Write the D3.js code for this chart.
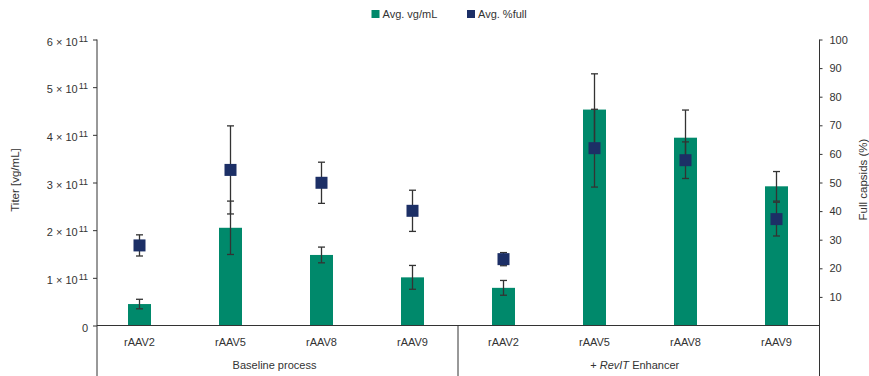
<!DOCTYPE html>
<html>
<head>
<meta charset="utf-8">
<script src="https://cdn.jsdelivr.net/npm/d3@7"></script>
<style>
  html, body { margin: 0; padding: 0; background: #fff; }
  svg { display: block; font-family: "Liberation Sans", Arial, sans-serif; }
</style>
</head>
<body>
<svg id="chart" width="869" height="376"></svg>
<script>
// Serotypes, grouped by production process
const categories = ["rAAV2", "rAAV5", "rAAV8", "rAAV9", "rAAV2", "rAAV5", "rAAV8", "rAAV9"];
const groups = ["Baseline process", "+ RevIT Enhancer"];
const groupSize = 4;

// Average titer, in units of 10^11 vg/mL, with its error (±)
const titer    = [0.45, 2.05, 1.48, 1.01, 0.79, 4.53, 3.94, 2.92];
const titerErr = [0.10, 0.56, 0.165, 0.25, 0.155, 0.75, 0.58, 0.31];

// Average percentage of full capsids, with its error (±)
const fullPct    = [28.0, 54.4, 49.9, 40.1, 23.2, 62.0, 57.8, 37.2];
const fullPctErr = [3.7, 15.4, 7.2, 7.2, 2.3, 13.6, 6.4, 5.9];

// Axis ticks
const titerTicks = [0, 1, 2, 3, 4, 5, 6];
const pctTicks = [10, 20, 30, 40, 50, 60, 70, 80, 90, 100];

const seriesNames = ["Avg. vg/mL", "Avg. %full"];
const green = "#00896b";
const navy = "#1c2f66";
const ink = "#333";

const W = 869, H = 376;
const plotLeft = 97, plotRight = 819.5, plotTop = 39.5, plotBase = 325.5;

const svg = d3.select("#chart");

const x = d3.scaleBand().domain(d3.range(categories.length)).range([94, 822]);
const yL = d3.scaleLinear().domain([0, 6]).range([plotBase, plotTop]);
const yR = d3.scaleLinear().domain([0, 100]).range([plotBase, plotTop]);

const barW = 23, capW = 7, markerS = 12;

// Bars: average titer
svg.append("g").selectAll("rect").data(titer).join("rect")
  .attr("x", (d, i) => x(i) + x.bandwidth() / 2 - barW / 2)
  .attr("y", d => yL(d))
  .attr("width", barW)
  .attr("height", d => yL(0) - yL(d))
  .attr("fill", green);

// Error bar helper
function errorBars(values, errs, scale) {
  const g = svg.append("g").attr("stroke", ink).attr("stroke-width", 1.3).attr("fill", "none");
  values.forEach((v, i) => {
    const cx = x(i) + x.bandwidth() / 2;
    const y1 = scale(v - errs[i]), y2 = scale(v + errs[i]);
    g.append("line").attr("x1", cx).attr("x2", cx).attr("y1", y1).attr("y2", y2);
    g.append("line").attr("x1", cx - capW / 2).attr("x2", cx + capW / 2).attr("y1", y1).attr("y2", y1);
    g.append("line").attr("x1", cx - capW / 2).attr("x2", cx + capW / 2).attr("y1", y2).attr("y2", y2);
  });
}
errorBars(titer, titerErr, yL);
errorBars(fullPct, fullPctErr, yR);

// Markers: average % full capsids
svg.append("g").selectAll("rect").data(fullPct).join("rect")
  .attr("x", (d, i) => x(i) + x.bandwidth() / 2 - markerS / 2)
  .attr("y", d => yR(d) - markerS / 2)
  .attr("width", markerS)
  .attr("height", markerS)
  .attr("fill", navy);

// Left axis (titer) with scientific-notation labels
const gL = svg.append("g").attr("transform", `translate(${plotLeft},0)`)
  .call(d3.axisLeft(yL).tickValues(titerTicks).tickSize(4).tickFormat(() => ""));
gL.select(".domain").remove();
gL.selectAll(".tick line").attr("stroke", ink);
gL.selectAll(".tick text").remove();
gL.selectAll(".tick").each(function (d) {
  const t = d3.select(this).append("text")
    .attr("x", -9).attr("y", 5.5)
    .attr("text-anchor", "end")
    .attr("fill", ink)
    .style("font-size", "11px");
  if (d === 0) {
    t.text("0");
  } else {
    t.append("tspan").text(`${d} \u00d7 10`);
    t.append("tspan").attr("dy", -4).attr("dx", 1).style("font-size", "9px").text("11");
  }
});

// Right axis (% full)
const gR = svg.append("g").attr("transform", `translate(${plotRight},0)`)
  .call(d3.axisRight(yR).tickValues(pctTicks).tickSize(3).tickPadding(7));
gR.select(".domain").remove();
gR.selectAll(".tick line").attr("stroke", ink);
gR.selectAll(".tick text").attr("fill", ink).style("font-size", "11px")
  .attr("font-family", "Liberation Sans, Arial, sans-serif");

// Axis lines, baseline and group separator
const lines = svg.append("g").attr("stroke", ink).attr("stroke-width", 1);
lines.append("line").attr("x1", plotLeft).attr("x2", plotLeft).attr("y1", plotTop).attr("y2", H);
lines.append("line").attr("x1", plotRight).attr("x2", plotRight).attr("y1", plotTop).attr("y2", H);
lines.append("line").attr("x1", plotLeft).attr("x2", plotRight).attr("y1", yL(0)).attr("y2", yL(0));
const sepX = (x(groupSize - 1) + x.bandwidth() + x(groupSize)) / 2;
lines.append("line").attr("x1", sepX).attr("x2", sepX).attr("y1", yL(0)).attr("y2", H);

// Category labels
svg.append("g").selectAll("text").data(categories).join("text")
  .attr("x", (d, i) => x(i) + x.bandwidth() / 2)
  .attr("y", 345.5)
  .attr("text-anchor", "middle")
  .attr("fill", ink)
  .style("font-size", "11px")
  .text(d => d);

// Group labels
const groupCenters = [(plotLeft + sepX) / 2, (sepX + plotRight) / 2];
svg.append("text").attr("x", groupCenters[0] - 3).attr("y", 369)
  .attr("text-anchor", "middle").attr("fill", ink).style("font-size", "11px")
  .text(groups[0]);
const g2 = svg.append("text").attr("x", groupCenters[1] - 4).attr("y", 369)
  .attr("text-anchor", "middle").attr("fill", ink).style("font-size", "11px");
g2.append("tspan").text("+ ");
g2.append("tspan").style("font-style", "italic").text("RevIT");
g2.append("tspan").text(" Enhancer");

// Axis titles
svg.append("text")
  .attr("transform", `translate(19,180) rotate(-90)`)
  .attr("text-anchor", "middle").attr("fill", ink).style("font-size", "11.5px")
  .text("Titer [vg/mL]");
svg.append("text")
  .attr("transform", `translate(867,179.5) rotate(-90)`)
  .attr("text-anchor", "middle").attr("fill", ink).style("font-size", "11.5px")
  .text("Full capsids (%)");

// Legend
const legend = svg.append("g").style("font-size", "11px");
const legendItems = [
  { name: seriesNames[0], color: green, x: 371.5 },
  { name: seriesNames[1], color: navy, x: 467 }
];
legendItems.forEach(it => {
  legend.append("rect").attr("x", it.x).attr("y", 10).attr("width", 8).attr("height", 8).attr("fill", it.color);
  legend.append("text").attr("x", it.x + 11).attr("y", 18).attr("fill", ink).text(it.name);
});
</script>
</body>
</html>
